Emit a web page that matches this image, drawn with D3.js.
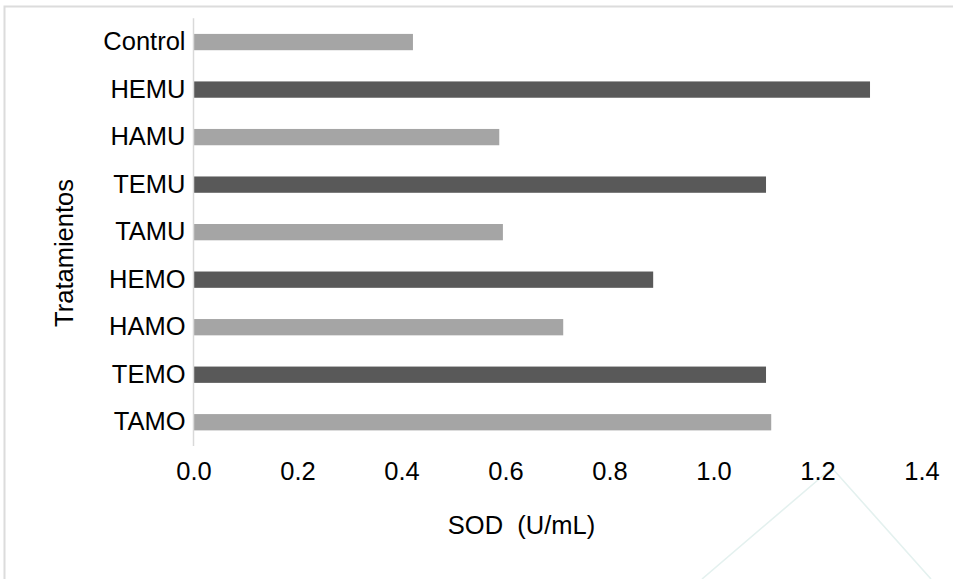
<!DOCTYPE html>
<html>
<head>
<meta charset="utf-8">
<script src="https://cdn.jsdelivr.net/npm/d3@7"></script>
<style>
  html, body { margin: 0; padding: 0; background: #fff; }
  svg { display: block; }
  text { font-family: "Liberation Sans", Arial, sans-serif; fill: #000; }
</style>
</head>
<body>
<svg id="chart" width="953" height="579"></svg>
<script>
const categories = ["Control", "HEMU", "HAMU", "TEMU", "TAMU", "HEMO", "HAMO", "TEMO", "TAMO"];
const values = [0.422, 1.301, 0.588, 1.101, 0.595, 0.884, 0.711, 1.101, 1.111];
const barColors = ["#a5a5a5", "#595959", "#a5a5a5", "#595959", "#a5a5a5", "#595959", "#a5a5a5", "#595959", "#a5a5a5"];
const xTicks = [0, 0.2, 0.4, 0.6, 0.8, 1.0, 1.2, 1.4];
const xTitle = "SOD  (U/mL)";
const yTitle = "Tratamientos";

const FS = 25.5;
const svg = d3.select("#chart");

// watermark (faint decoration)
svg.append("polyline")
  .attr("points", "702,579 832,468 931,579")
  .attr("fill", "none")
  .attr("stroke", "#e4f1ef")
  .attr("stroke-width", 1.6);

// outer frame (top and left edges visible)
svg.append("path")
  .attr("d", "M4.5,579 L4.5,6.5 L953,6.5")
  .attr("fill", "none")
  .attr("stroke", "#dcdcdc")
  .attr("stroke-width", 2);

const x = d3.scaleLinear().domain([0, 1.4]).range([193.5, 921.5]);
const y = d3.scaleBand().domain(categories).range([18.3, 446]).paddingInner(0.657).paddingOuter(0.3285);

// bars
svg.append("g").selectAll("rect")
  .data(categories)
  .join("rect")
  .attr("x", x(0))
  .attr("y", d => y(d))
  .attr("width", (d, i) => x(values[i]) - x(0))
  .attr("height", y.bandwidth())
  .attr("fill", (d, i) => barColors[i]);

// y axis line
svg.append("line")
  .attr("x1", x(0)).attr("x2", x(0))
  .attr("y1", 18.3).attr("y2", 446)
  .attr("stroke", "#d9d9d9").attr("stroke-width", 1.5);

// y axis labels
const yAxis = d3.axisLeft(y).tickSize(0).tickPadding(8);
const gy = svg.append("g").attr("transform", `translate(${x(0)},0)`).call(yAxis);
gy.select(".domain").remove();
gy.selectAll("text")
  .attr("font-size", FS)
  .attr("font-family", "Liberation Sans, Arial, sans-serif")
  .attr("fill", "#000");

// x axis labels
const xAxis = d3.axisBottom(x).tickValues(xTicks).tickFormat(d3.format(".1f")).tickSize(0).tickPadding(0);
const gx = svg.append("g").attr("transform", `translate(0,446)`).call(xAxis);
gx.select(".domain").remove();
gx.selectAll("text")
  .attr("font-size", FS)
  .attr("font-family", "Liberation Sans, Arial, sans-serif")
  .attr("fill", "#000")
  .attr("dy", null)
  .attr("y", 34);

// axis titles
svg.append("text")
  .attr("x", 521.5).attr("y", 534)
  .attr("text-anchor", "middle")
  .attr("font-size", FS)
  .style("white-space", "pre")
  .text(xTitle);

svg.append("text")
  .attr("transform", "translate(73,253) rotate(-90)")
  .attr("text-anchor", "middle")
  .attr("font-size", FS)
  .text(yTitle);
</script>
</body>
</html>
